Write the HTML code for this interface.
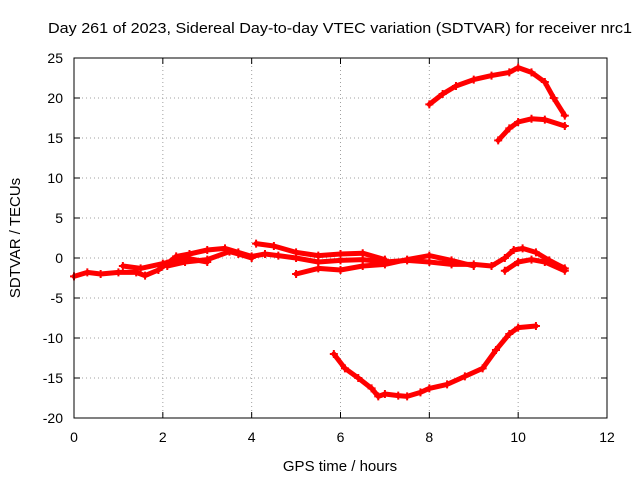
<!DOCTYPE html>
<html><head><meta charset="utf-8"><style>
body{margin:0;background:#fff;}
svg{display:block;font-family:"Liberation Sans",sans-serif;font-size:14px;}
</style></head><body>
<svg id="chart" width="640" height="480">
<rect x="0" y="0" width="640" height="480" fill="#fff"/>
<text x="48" y="33" textLength="584" lengthAdjust="spacingAndGlyphs" style="font-size:15px">Day 261 of 2023, Sidereal Day-to-day VTEC variation (SDTVAR) for receiver nrc1</text>
<text x="340" y="471" text-anchor="middle" style="font-size:15px">GPS time / hours</text>
<text transform="translate(20,238) rotate(-90)" text-anchor="middle" style="font-size:15px">SDTVAR / TECUs</text>
<g id="grid"></g><g id="ticks"></g><g id="series"></g>
<rect x="74" y="58" width="533" height="360" fill="none" stroke="#000" stroke-width="1"/>
</svg>
<script>
const xTicks=[0,2,4,6,8,10,12];
const yTicks=[25,20,15,10,5,0,-5,-10,-15,-20];
const upperArcX=[8.0,8.3,8.6,9.0,9.4,9.8,10.0,10.3,10.6,10.8,11.05];
const upperArcY=[19.2,20.5,21.5,22.3,22.8,23.2,23.8,23.2,22.0,20.0,17.8];
const secondArcX=[9.55,9.8,10.0,10.3,10.6,11.05];
const secondArcY=[14.7,16.2,17.0,17.4,17.3,16.5];
const lowerArcX=[5.85,6.1,6.4,6.7,6.85,7.0,7.3,7.5,7.8,8.0,8.4,8.8,9.2,9.5,9.8,10.0,10.4];
const lowerArcY=[-12,-13.8,-15,-16.3,-17.3,-17,-17.2,-17.3,-16.8,-16.3,-15.8,-14.8,-13.8,-11.5,-9.5,-8.7,-8.5];
const aX=[0,0.3,0.6,1,1.4,1.6,1.9,2.1,2.3,2.6,3,3.4,3.7,4,4.3,4.6,5,5.5,6,6.5,7,7.5,8,8.5,9,9.4,9.7,9.9,10.1,10.4,10.7,11.05];
const aY=[-2.3,-1.8,-2,-1.8,-1.8,-2.2,-1.5,-0.7,0.2,0.5,1,1.2,0.7,0.2,0.5,0.3,0,-0.5,-0.3,-0.2,-0.5,-0.3,-0.5,-0.8,-0.8,-1,0,1.0,1.2,0.7,-0.3,-1.3];
const bX=[2.1,2.5,3.0,3.5,3.7,4.0];
const bY=[-1,-0.5,-0.2,0.8,0.5,0];
const cX=[4.1,4.5,5.0,5.5,6.0,6.5,7.0];
const cY=[1.8,1.5,0.7,0.3,0.5,0.6,-0.2];
const dX=[5.0,5.5,6.0,6.5,7.0,7.5,8.0,8.5,9.0];
const dY=[-2,-1.3,-1.5,-1,-0.8,-0.2,0.3,-0.3,-1];
const eX=[9.7,10.0,10.3,10.6,11.05];
const eY=[-1.6,-0.5,-0.2,-0.5,-1.6];
const fX=[1.1,1.5,2.0,2.5,3.0];
const fY=[-1,-1.3,-0.7,0,-0.5];
const L=74,R=607,T=58,B=418;
const sx=v=>L+(v-0)/12*(R-L);
const sy=v=>B-(v+20)/45*(B-T);
const NS="http://www.w3.org/2000/svg";
const mk=(t,a,p)=>{const e=document.createElementNS(NS,t);for(const k in a)e.setAttribute(k,a[k]);p.appendChild(e);return e;};
const grid=document.getElementById('grid'),ticks=document.getElementById('ticks'),ser=document.getElementById('series');
xTicks.forEach(v=>{
 const g=mk('line',{x1:sx(v),x2:sx(v),y1:T,y2:B,stroke:'#a0a0a0','stroke-dasharray':'1,3'},grid);
 
 
 mk('line',{x1:sx(v),x2:sx(v),y1:B,y2:B-6,stroke:'#000'},ticks);
 mk('line',{x1:sx(v),x2:sx(v),y1:T,y2:T+6,stroke:'#000'},ticks);
 const t=mk('text',{x:sx(v),y:B+24,'text-anchor':'middle'},ticks);t.textContent=v;
 
 
});
yTicks.forEach(v=>{
 const g=mk('line',{x1:L,x2:R,y1:sy(v),y2:sy(v),stroke:'#a0a0a0','stroke-dasharray':'1,3'},grid);
 
 
 mk('line',{x1:L,x2:L+6,y1:sy(v),y2:sy(v),stroke:'#000'},ticks);
 mk('line',{x1:R,x2:R-6,y1:sy(v),y2:sy(v),stroke:'#000'},ticks);
 const t=mk('text',{x:L-11,y:sy(v)+5,'text-anchor':'end'},ticks);t.textContent=v;
 
 
});
[[upperArcX,upperArcY,'upper-arc'],[secondArcX,secondArcY,'second-arc'],[lowerArcX,lowerArcY,'lower-arc'],[aX,aY,'zero-series-a'],[bX,bY,'zero-series-b'],[cX,cY,'zero-series-c'],[dX,dY,'zero-series-d'],[eX,eY,'zero-series-e'],[fX,fY,'zero-series-f']].forEach(([xs,ys,n])=>{
 const p=mk('polyline',{points:xs.map((x,i)=>sx(x)+','+sy(ys[i])).join(' '),fill:'none',stroke:'#f00','stroke-width':5,'stroke-linejoin':'round','stroke-linecap':'round'},ser);
 
 
 xs.forEach((x,i)=>{
  const X=sx(x),Y=sy(ys[i]);
  const m=mk('path',{d:`M${X-4},${Y}H${X+4}M${X},${Y-4}V${Y+4}`,stroke:'#f00','stroke-width':2},ser);
  
  
 });
});
</script>
</body></html>
